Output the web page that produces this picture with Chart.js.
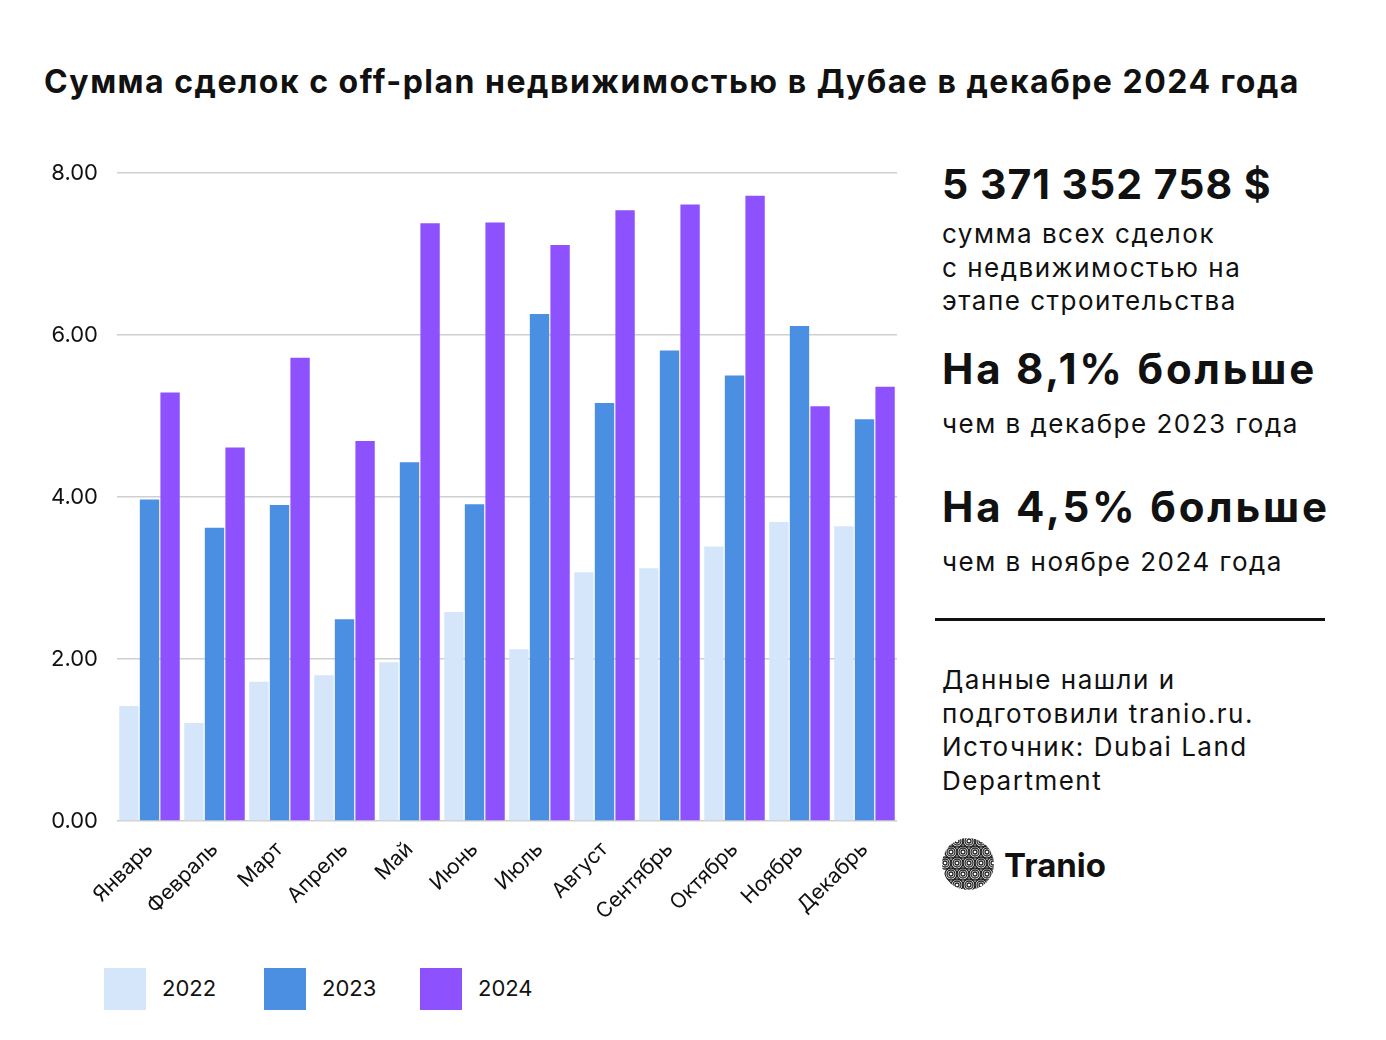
<!DOCTYPE html>
<html>
<head>
<meta charset="utf-8">
<script src="https://cdn.jsdelivr.net/npm/chart.js@4.4.1/dist/chart.umd.min.js"></script>
<style>
  html, body { margin: 0; padding: 0; background: #fff; }
  body { width: 1386px; height: 1040px; position: relative; overflow: hidden; font-family: "Inter", "Noto Sans", sans-serif; color: #111; }
  .abs { position: absolute; white-space: nowrap; }
  #title { left: 44px; top: 62px; font-size: 32px; font-weight: 700; letter-spacing: 1.5px; }
  #wrap { position: absolute; left: 0; top: 140px; width: 910px; height: 800px; }
  .big { font-size: 41px; font-weight: 700; letter-spacing: 1px; }
  .mid { font-size: 42px; font-weight: 700; letter-spacing: 2.8px; }
  .txt { font-size: 26px; line-height: 33.5px; letter-spacing: 1.5px; }
  #rule { position: absolute; left: 935px; top: 618px; width: 390px; height: 3px; background: #111; }
  .lg-box { position: absolute; width: 42px; height: 42px; top: 968px; }
  .lg-txt { position: absolute; top: 975px; font-size: 22px; }
</style>
</head>
<body>
<div id="title" class="abs">Сумма сделок с off-plan недвижимостью в Дубае в декабре 2024 года</div>
<div id="wrap"><canvas id="dealsChart"></canvas></div>

<div class="abs big" style="left:942px; top:159px;">5 371 352 758 $</div>
<div class="abs txt" style="left:942px; top:217px;">сумма всех сделок<br>с недвижимостью на<br>этапе строительства</div>
<div class="abs mid" style="left:942px; top:343px;">На 8,1% больше</div>
<div class="abs txt" style="left:942px; top:407px;">чем в декабре 2023 года</div>
<div class="abs mid" style="left:942px; top:481px;">На 4,5% больше</div>
<div class="abs txt" style="left:942px; top:545px;">чем в ноябре 2024 года</div>
<div id="rule"></div>
<div class="abs txt" style="left:942px; top:663px;">Данные нашли и<br>подготовили tranio.ru.<br>Источник: Dubai Land<br>Department</div>

<svg class="abs" style="left:941px; top:837px;" width="54" height="54" viewBox="0 0 54 54">
  <defs><clipPath id="c"><circle cx="27" cy="27" r="26"/></clipPath></defs>
  <g clip-path="url(#c)" fill="none" stroke="#222" stroke-width="1.3" id="swirls"></g>
</svg>
<div class="abs" style="left:1004px; top:845px; font-size:33px; font-weight:700;">Tranio</div>

<div id="legend"></div>

<script>
var months = ['Январь', 'Февраль', 'Март', 'Апрель', 'Май', 'Июнь', 'Июль', 'Август', 'Сентябрь', 'Октябрь', 'Ноябрь', 'Декабрь'];
var years = ['2022', '2023', '2024'];
var values2022 = [1.42, 1.21, 1.72, 1.80, 1.96, 2.58, 2.12, 3.07, 3.12, 3.39, 3.69, 3.64];
var values2023 = [3.97, 3.62, 3.90, 2.49, 4.43, 3.91, 6.26, 5.16, 5.81, 5.50, 6.11, 4.96];
var values2024 = [5.29, 4.61, 5.72, 4.69, 7.38, 7.39, 7.11, 7.54, 7.61, 7.72, 5.12, 5.36];
var yTicks = [0, 2, 4, 6, 8];
var colors = ['#d5e6fb', '#4a8fe2', '#8d52fd'];

// logo swirls
var g = document.getElementById('swirls');
for (var r = 0; r < 5; r++) {
    for (var c = 0; c < 5; c++) {
        var cx = 4 + c * 12 + (r % 2) * 6, cy = 4 + r * 11;
        for (var k = 2; k <= 6; k += 2) {
            var e = document.createElementNS('http://www.w3.org/2000/svg', 'circle');
            e.setAttribute('cx', cx); e.setAttribute('cy', cy); e.setAttribute('r', k);
            g.appendChild(e);
        }
    }
}

// legend
var lg = document.getElementById('legend');
var lgX = [104, 264, 420];
years.forEach(function(y, i) {
    var b = document.createElement('div');
    b.className = 'lg-box';
    b.style.left = lgX[i] + 'px';
    b.style.background = colors[i];
    lg.appendChild(b);
    var t = document.createElement('div');
    t.className = 'lg-txt';
    t.style.left = (lgX[i] + 58) + 'px';
    t.textContent = y;
    lg.appendChild(t);
});

document.addEventListener("DOMContentLoaded", function() {
    var ctx = document.getElementById('dealsChart').getContext('2d');
    var series = [values2022, values2023, values2024];
    var dealsChart = new Chart(ctx, {
        type: 'bar',
        data: {
            labels: months,
            datasets: years.map(function(y, i) {
                return {
                    label: y,
                    data: series[i],
                    backgroundColor: colors[i],
                    borderWidth: 0,
                    barPercentage: 0.94,
                    categoryPercentage: 0.95
                };
            })
        },
        options: {
            responsive: true,
            maintainAspectRatio: false,
            animation: false,
            layout: { padding: { top: 33, right: 13, left: 0, bottom: 0 } },
            plugins: { legend: { display: false }, tooltip: { enabled: false } },
            scales: {
                x: {
                    grid: { display: false },
                    border: { display: false },
                    ticks: {
                        minRotation: 45, maxRotation: 45, padding: 8,
                        color: '#111',
                        font: { family: 'Inter', size: 21 }
                    },
                    afterFit: function(s) { s.height = 119; }
                },
                y: {
                    min: 0, max: 8,
                    afterBuildTicks: function(s) { s.ticks = yTicks.map(function(v) { return { value: v }; }); },
                    grid: { color: '#cfcfcf', lineWidth: 1.5, drawTicks: false },
                    border: { display: false },
                    ticks: {
                        padding: 19, color: '#111',
                        font: { family: 'Inter', size: 22 },
                        callback: function(v) { return v.toFixed(2); }
                    },
                    afterFit: function(s) { s.width = 117; }
                }
            }
        }
    });
});
</script>
</body>
</html>
